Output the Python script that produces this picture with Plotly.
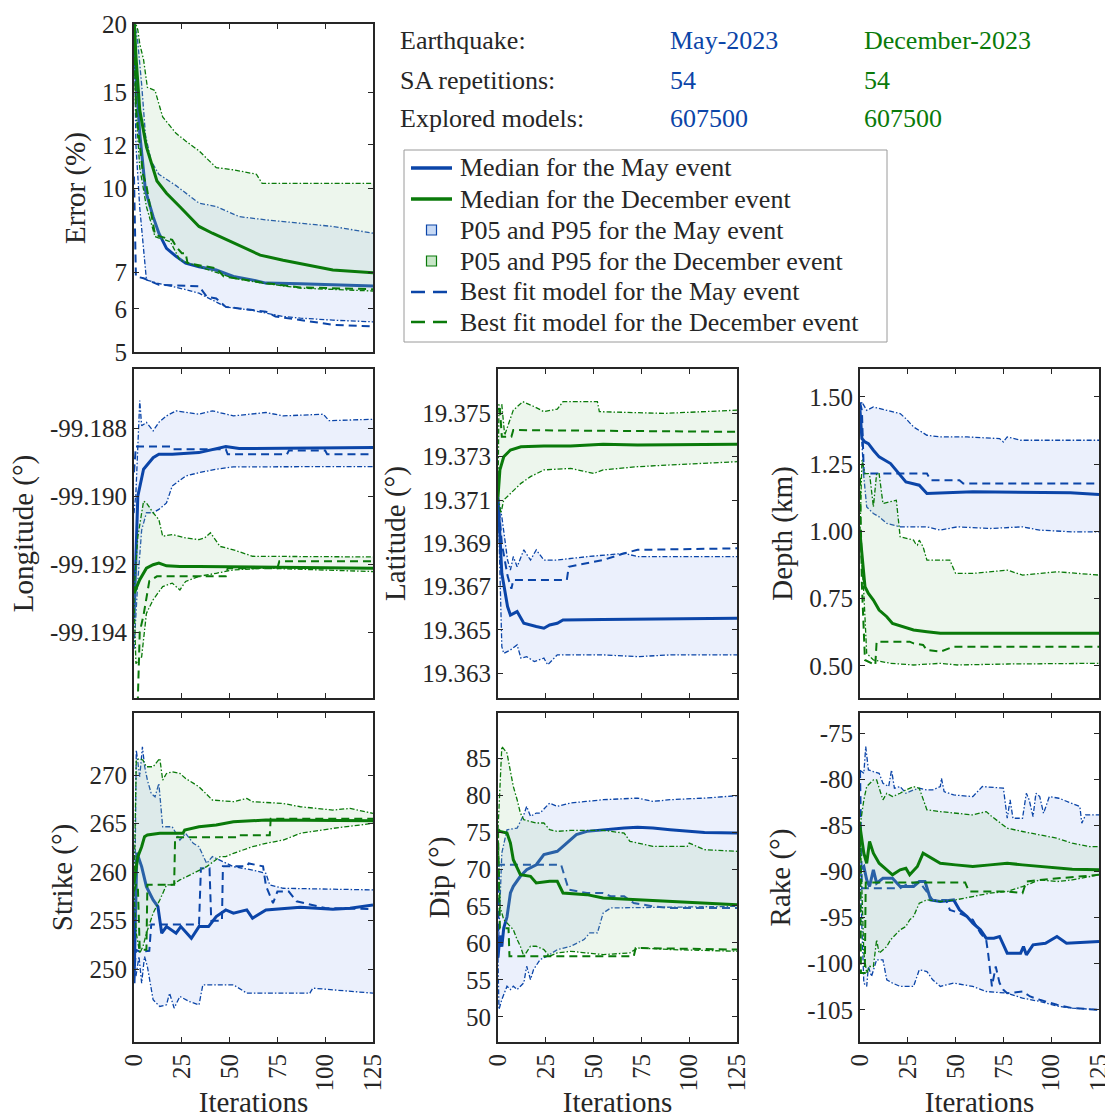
import math
import plotly.graph_objects as go

# ---------------------------------------------------------------- colours
MAY = '#0b45a8'
DEC = '#0a7a0a'
MAY_FILL = 'rgb(235,240,252)'
DEC_FILL = 'rgba(165,210,165,0.2)'
INK = '#262626'
FONT = 'Liberation Serif'

# ---------------------------------------------------------------- header table
header_rows = ['Earthquake:', 'SA repetitions:', 'Explored models:']
may_column = ['May-2023', '54', '607500']
dec_column = ['December-2023', '54', '607500']

# ---------------------------------------------------------------- legend labels
legend_labels = ['Median for the May event', 'Median for the December event',
                 'P05 and P95 for the May event', 'P05 and P95 for the December event',
                 'Best fit model for the May event', 'Best fit model for the December event']

# ---------------------------------------------------------------- ticks
iter_ticks = [0, 25, 50, 75, 100, 125]
iter_labels = ['0', '25', '50', '75', '100', '125']
err_ticks = [5, 6, 7, 10, 12, 15, 20]
err_labels = ['5', '6', '7', '10', '12', '15', '20']
lon_ticks = [-99.194, -99.192, -99.190, -99.188]
lon_labels = ['-99.194', '-99.192', '-99.190', '-99.188']
lat_ticks = [19.363, 19.365, 19.367, 19.369, 19.371, 19.373, 19.375]
lat_labels = ['19.363', '19.365', '19.367', '19.369', '19.371', '19.373', '19.375']
dep_ticks = [0.50, 0.75, 1.00, 1.25, 1.50]
dep_labels = ['0.50', '0.75', '1.00', '1.25', '1.50']
str_ticks = [250, 255, 260, 265, 270]
str_labels = ['250', '255', '260', '265', '270']
dip_ticks = [50, 55, 60, 65, 70, 75, 80, 85]
dip_labels = ['50', '55', '60', '65', '70', '75', '80', '85']
rake_ticks = [-105, -100, -95, -90, -85, -80, -75]
rake_labels = ['-105', '-100', '-95', '-90', '-85', '-80', '-75']

# ---------------------------------------------------------------- Error (%)
err_may_p95_x = [0, 2, 4, 6, 9, 13, 22, 34, 43, 55, 69, 87, 104, 125]
err_may_p95_y = [20.5, 18.5, 15.5, 12.5, 11.2, 10.6, 10.1, 9.38, 9.25, 8.86, 8.74, 8.62, 8.50, 8.26]
err_may_med_x = [0, 1, 3, 6, 10, 13, 17, 22, 27, 34, 43, 52, 61, 69, 87, 104, 125]
err_may_med_y = [20.5, 16.0, 12.6, 9.9, 8.86, 8.26, 7.75, 7.49, 7.28, 7.17, 7.07, 6.88, 6.79, 6.69, 6.67, 6.64, 6.61]
err_may_p05_x = [0, 1, 3, 5, 6.5, 12, 20, 27, 34, 41, 48, 61, 69, 78, 87, 104, 125]
err_may_p05_y = [20.5, 12.0, 9.2, 7.6, 6.78, 6.69, 6.60, 6.51, 6.41, 6.23, 6.05, 5.97, 5.89, 5.81, 5.77, 5.72, 5.68]
err_may_best_x = [0, 1, 5, 13, 34, 38, 43, 48, 55, 69, 74, 87, 96, 104, 125]
err_may_best_y = [10.5, 6.88, 6.83, 6.64, 6.60, 6.32, 6.27, 6.05, 6.01, 5.93, 5.81, 5.72, 5.65, 5.61, 5.57]
err_dec_p95_x = [0, 2, 3, 5, 7, 11, 15, 22, 27, 34, 43, 52, 64, 67, 125]
err_dec_p95_y = [20.5, 19.5, 18.4, 17.2, 15.3, 15.1, 13.5, 12.6, 12.2, 11.7, 10.9, 10.8, 10.6, 10.2, 10.2]
err_dec_med_x = [0, 1, 3, 6.5, 12, 17, 24, 34, 41, 52, 66, 78, 95, 104, 125]
err_dec_med_y = [20.5, 17.5, 13.9, 11.9, 10.3, 9.78, 9.24, 8.50, 8.26, 7.92, 7.53, 7.37, 7.17, 7.07, 6.99]
err_dec_p05_x = [0, 1, 3, 6.5, 11, 19, 24, 34, 52, 67, 87, 125]
err_dec_p05_y = [20.5, 14.0, 10.9, 9.24, 8.14, 7.97, 7.37, 7.17, 6.83, 6.69, 6.55, 6.47]
err_dec_best_x = [0, 1, 4.7, 6.5, 11, 20, 22, 25, 27, 28, 43, 47, 69, 78, 87, 125]
err_dec_best_y = [20.5, 14.0, 10.6, 10.1, 8.20, 8.03, 7.81, 7.59, 7.59, 7.28, 7.12, 6.88, 6.69, 6.64, 6.57, 6.52]

# ---------------------------------------------------------------- Longitude
lon_may_p95_x = [0, 1, 3, 4, 6.5, 10, 13, 17, 22, 34, 41, 52, 69, 78, 99, 102, 125]
lon_may_p95_y = [-99.1905, -99.1899, -99.18719, -99.18793, -99.18783, -99.18808, -99.18783, -99.18764,
                 -99.18749, -99.18759, -99.18749, -99.18764, -99.18754, -99.18764, -99.18759, -99.18778, -99.18774]
lon_may_med_x = [0, 1, 2, 5, 10, 13, 20, 34, 41, 48, 55, 125]
lon_may_med_y = [-99.1936, -99.1915, -99.1900, -99.18921, -99.18887, -99.18877, -99.18877, -99.18872,
                 -99.18862, -99.18854, -99.18860, -99.18857]
lon_may_p05_x = [0, 2, 4, 6.5, 10, 13, 17, 20, 27, 34, 43, 52, 125]
lon_may_p05_y = [-99.1945, -99.1925, -99.1910, -99.19049, -99.19049, -99.19039, -99.19020, -99.18970,
                 -99.18941, -99.18931, -99.18921, -99.18914, -99.18913]
lon_may_best_x = [0, 1, 19, 20, 48, 49, 80, 81, 100, 101, 125]
lon_may_best_y = [-99.1893, -99.18854, -99.18854, -99.18862, -99.18862, -99.18877, -99.18877, -99.18866,
                  -99.18866, -99.18877, -99.18877]
lon_dec_p95_x = [0, 2, 5, 6.5, 10, 13, 15, 20, 27, 34, 37, 40, 45, 52, 62, 125]
lon_dec_p95_y = [-99.1928, -99.1912, -99.19015, -99.19020, -99.19049, -99.19069, -99.19118, -99.19113,
                 -99.19123, -99.19128, -99.19123, -99.19108, -99.19148, -99.19158, -99.19177, -99.19179]
lon_dec_med_x = [0, 3, 6.5, 10, 13, 17, 24, 34, 125]
lon_dec_med_y = [-99.19286, -99.19246, -99.19212, -99.19202, -99.19197, -99.19205, -99.19207, -99.19207, -99.19212]
lon_dec_p05_x = [0, 1, 4, 6.5, 10, 15, 20, 24, 27, 34, 43, 52, 69, 104, 125]
lon_dec_p05_y = [-99.1930, -99.19493, -99.19473, -99.19345, -99.19305, -99.19266, -99.19256, -99.19276,
                 -99.19251, -99.19236, -99.19227, -99.19217, -99.19212, -99.19217, -99.19222]
lon_dec_best_x = [0, 2, 3, 5, 8, 12, 48, 49, 75, 76, 125]
lon_dec_best_y = [-99.1965, -99.1960, -99.1940, -99.1935, -99.1925, -99.19236, -99.19236, -99.19212,
                  -99.19212, -99.19192, -99.19192]

# ---------------------------------------------------------------- Latitude
lat_may_p95_x = [0, 2, 5, 6.5, 8, 10, 13.5, 17, 20, 24, 31, 47, 66, 73, 125]
lat_may_p95_y = [19.37115, 19.37023, 19.36823, 19.36777, 19.36839, 19.36792, 19.36870, 19.36823,
                 19.36870, 19.36823, 19.36823, 19.36839, 19.36854, 19.36839, 19.36839]
lat_may_med_x = [0, 2, 5, 6.5, 10, 13.5, 20, 24, 27, 31, 34, 55, 125]
lat_may_med_y = [19.37115, 19.36762, 19.36608, 19.36569, 19.36585, 19.36531, 19.36516, 19.36508,
                 19.36523, 19.36531, 19.36546, 19.36549, 19.36554]
lat_may_p05_x = [0, 2, 3, 6.5, 10, 12, 15, 19, 24, 26, 31, 55, 73, 90, 125]
lat_may_p05_y = [19.37115, 19.36423, 19.36392, 19.36408, 19.36431, 19.36370, 19.36377, 19.36354,
                 19.36370, 19.36339, 19.36385, 19.36385, 19.36377, 19.36385, 19.36385]
lat_may_best_x = [0, 2, 5, 7, 8, 36, 37, 55, 66, 73, 125]
lat_may_best_y = [19.37115, 19.3690, 19.3675, 19.3669, 19.36731, 19.36731, 19.36792, 19.36823,
                  19.36854, 19.36870, 19.36877]
lat_dec_p95_x = [0, 0.5, 2, 3.5, 8, 13, 19, 24, 31, 34, 52, 53, 87, 125]
lat_dec_p95_y = [19.37115, 19.37540, 19.37540, 19.37400, 19.37515, 19.37554, 19.37531, 19.37508,
                 19.37520, 19.37554, 19.37554, 19.37508, 19.37500, 19.37515]
lat_dec_med_x = [0, 1, 3, 6.5, 12, 24, 38, 55, 73, 125]
lat_dec_med_y = [19.37115, 19.37239, 19.37300, 19.37331, 19.37346, 19.37349, 19.37349, 19.37358,
                 19.37354, 19.37357]
lat_dec_p05_x = [0, 1.5, 3, 6.5, 12, 17, 24, 38, 50, 55, 73, 90, 125]
lat_dec_p05_y = [19.37115, 19.37039, 19.37100, 19.37131, 19.37177, 19.37208, 19.37239, 19.37246,
                 19.37223, 19.37239, 19.37254, 19.37262, 19.37277]
lat_dec_best_x = [0, 1, 2, 4.5, 7, 8, 125]
lat_dec_best_y = [19.37520, 19.37520, 19.37392, 19.37392, 19.37392, 19.37423, 19.37415]

# ---------------------------------------------------------------- Depth (km)
dep_may_p95_x = [0, 1, 3.5, 7, 14, 21, 24, 28, 35, 42, 56, 73, 75, 77, 84, 125]
dep_may_p95_y = [1.45, 1.4814, 1.4505, 1.4629, 1.4505, 1.4381, 1.4196, 1.3886, 1.3577, 1.3515,
                 1.3515, 1.3453, 1.3329, 1.3515, 1.3391, 1.3391]
dep_may_med_x = [0, 1, 2.6, 4.4, 7, 10, 16, 19, 24, 31, 35, 59, 110, 125]
dep_may_med_y = [1.4505, 1.3453, 1.3329, 1.3267, 1.3020, 1.2772, 1.2525, 1.2277, 1.1844, 1.1720,
                 1.1411, 1.1473, 1.1436, 1.1374]
dep_may_p05_x = [0, 2, 3.5, 7, 10, 14, 21, 35, 42, 51, 68, 85, 94, 111, 125]
dep_may_p05_y = [1.4505, 1.2030, 1.0916, 1.0668, 1.0545, 1.0297, 1.0173, 1.0173, 1.0050, 1.0173,
                 1.0111, 1.0173, 1.0050, 0.9988, 0.9988]
dep_may_best_x = [0, 1, 2, 35, 37, 52, 54, 125]
dep_may_best_y = [1.48, 1.45, 1.2153, 1.2153, 1.1906, 1.1906, 1.1782, 1.1782]
dep_dec_p95_x = [0, 1, 2.6, 4.4, 5.2, 7, 8.7, 10, 12, 19, 21, 28, 29, 30, 31, 33, 35, 47, 50, 59,
                 77, 85, 103, 125]
dep_dec_p95_y = [1.0, 1.2649, 1.2153, 1.2153, 1.2030, 1.0916, 1.2153, 1.2153, 1.1040, 1.1163,
                 0.9802, 0.9678, 0.9555, 0.9493, 0.9678, 0.9430, 0.8936, 0.8936, 0.8441, 0.8441,
                 0.8564, 0.8379, 0.8503, 0.8379]
dep_dec_med_x = [0, 1.4, 2.6, 4.4, 7, 10, 14, 17, 23, 28, 35, 42, 125]
dep_dec_med_y = [0.9926, 0.8936, 0.7946, 0.7698, 0.7450, 0.7079, 0.6832, 0.6584, 0.6460, 0.6337,
                 0.6275, 0.6213, 0.6213]
dep_dec_p05_x = [0, 2, 3.5, 5, 7, 16, 28, 42, 51, 77, 125]
dep_dec_p05_y = [0.9926, 0.7698, 0.5470, 0.5347, 0.5223, 0.5099, 0.5037, 0.5099, 0.5037, 0.5074, 0.5099]
dep_dec_best_x = [0, 1, 2.6, 8, 8.7, 26, 28, 33, 35, 42, 49, 125]
dep_dec_best_y = [1.2, 0.8, 0.5223, 0.5037, 0.5904, 0.5904, 0.5842, 0.5780, 0.5594, 0.5532, 0.5718, 0.5718]

# ---------------------------------------------------------------- Strike (deg)
str_may_p95_x = [0, 1.2, 3, 4.4, 5.6, 7, 9, 11, 13, 15, 20, 24, 27, 31, 34, 38, 41, 45, 52, 62, 69,
                 71, 78, 125]
str_may_p95_y = [250, 272.57, 269.83, 272.92, 270.86, 269.49, 268.11, 267.77, 269.14, 264.68, 264.68,
                 263.31, 264.0, 262.97, 262.62, 260.91, 261.6, 261.25, 260.57, 260.22, 259.88, 258.68,
                 258.34, 258.17]
str_may_med_x = [0, 1.5, 4, 6.5, 10, 12.5, 14.5, 17, 22, 24.5, 30, 34, 39, 43, 48, 52, 59, 62, 69,
                 87, 104, 113, 125]
str_may_med_y = [248.56, 262.0, 260.57, 258.51, 257.14, 256.45, 253.71, 254.39, 253.71, 254.39,
                 253.19, 254.39, 254.39, 255.42, 256.11, 255.77, 256.11, 255.25, 256.11, 256.38,
                 256.17, 256.28, 256.62]
str_may_p05_x = [0, 1, 2.6, 4, 5.5, 7, 10, 13.5, 17, 18.6, 21, 24, 29, 34, 36, 43, 52, 59, 69, 92,
                 93.5, 104, 125]
str_may_p05_y = [250.28, 249.25, 251.31, 248.56, 251.31, 250.28, 246.85, 246.16, 246.33, 247.53,
                 245.99, 247.19, 246.67, 246.33, 248.39, 248.39, 248.39, 247.53, 247.53, 247.53,
                 248.05, 247.88, 247.53]
str_may_best_x = [0, 1, 3, 8, 9, 34, 35, 39.5, 40.4, 46, 46.5, 59, 60, 67.5, 69, 72.7, 75, 81, 85,
                  100, 125]
str_may_best_y = [249, 252, 251.8, 251.9, 254.6, 254.6, 260.4, 260.4, 255.0, 255.0, 260.6, 260.6,
                  260.9, 260.6, 258.6, 256.8, 258.0, 258.0, 257.0, 256.3, 256.2]
str_dec_p95_x = [0, 1.2, 3, 4.7, 6.5, 10, 13.5, 15, 17, 20, 24, 27, 34, 41, 52, 59, 62, 78, 87, 104,
                 113, 125]
str_dec_p95_y = [258, 271.54, 271.72, 271.54, 270.86, 270.86, 271.72, 269.49, 270.17, 270.34, 270.17,
                 269.66, 268.8, 267.43, 267.26, 267.6, 267.26, 267.08, 266.74, 266.4, 266.57, 266.06]
str_dec_med_x = [0, 2, 4, 5.5, 7, 13.5, 20, 25.6, 26.5, 34, 43, 52, 69, 125]
str_dec_med_y = [258.85, 261.6, 262.62, 263.66, 263.83, 264.0, 264.0, 264.0, 264.34, 264.68, 264.86,
                 265.2, 265.37, 265.3]
str_dec_p05_x = [0, 1.2, 3, 4.7, 6.5, 10, 13.5, 17, 20, 24, 31, 38, 45, 48, 52, 62, 69, 78, 87, 104, 125]
str_dec_p05_y = [258, 253.71, 251.65, 252.34, 253.71, 255.77, 257.14, 258.68, 258.68, 259.2, 259.88,
                 260.57, 261.6, 261.6, 261.94, 262.62, 262.97, 263.31, 264.0, 264.51, 265.03]
str_dec_best_x = [0, 1, 2, 3, 6.5, 7, 21, 21.5, 54, 54.5, 71, 71.5, 125]
str_dec_best_y = [258.0, 258.7, 258.7, 252.0, 252.0, 258.7, 258.7, 263.6, 263.6, 263.8, 263.8, 265.5, 265.5]

# ---------------------------------------------------------------- Dip (deg)
dip_may_p95_x = [0, 2, 4.7, 10, 13.5, 15, 17, 18.6, 20, 22, 25.6, 27, 31, 38, 46, 55, 73, 81, 90, 108, 125]
dip_may_p95_y = [58, 72.16, 75.31, 75.54, 77.34, 78.47, 77.12, 77.34, 77.57, 77.57, 78.47, 78.92,
                 78.47, 78.92, 79.14, 79.37, 79.59, 79.14, 79.37, 79.59, 79.91]
dip_may_med_x = [0, 1, 2, 3, 4.7, 6.5, 8, 11.7, 15, 20, 24, 27, 31, 34, 38, 41, 46.5, 55, 59, 66, 73,
                 81, 90, 108, 125]
dip_may_med_y = [58.0, 61.0, 59.5, 62.0, 63.5, 66.76, 67.66, 69.01, 69.91, 70.58, 71.94, 72.16, 72.39,
                 73.06, 73.96, 74.64, 75.09, 75.31, 75.40, 75.54, 75.63, 75.54, 75.31, 74.95, 74.86]
dip_may_p05_x = [0, 0.5, 2, 4.7, 6.5, 8, 10, 13.5, 15, 17, 18.6, 22, 25.6, 31, 38, 45, 48, 52, 55, 59, 125]
dip_may_p05_y = [58, 51.0, 52.34, 54.14, 53.69, 54.14, 53.69, 54.59, 56.84, 55.04, 56.39, 57.74, 58.19,
                 59.09, 59.55, 60.45, 61.35, 61.35, 64.05, 64.73, 64.95]
dip_may_best_x = [0, 0.5, 33, 35, 37, 46.5, 55, 59, 66, 71, 81, 90, 125]
dip_may_best_y = [58, 70.58, 70.58, 69.0, 67.2, 66.76, 66.76, 66.3, 66.3, 65.4, 64.95, 64.73, 64.73]
dip_dec_p95_x = [0, 2, 4.7, 6.5, 8, 10, 11.7, 13.5, 20, 24, 27, 31, 38, 55, 66, 69, 81, 99, 100, 108, 125]
dip_dec_p95_y = [75.31, 86.58, 85.68, 82.97, 81.17, 79.37, 77.57, 76.67, 76.22, 76.22, 75.31, 75.09,
                 75.22, 75.22, 74.86, 73.74, 73.06, 73.06, 73.51, 72.61, 72.39]
dip_dec_med_x = [0, 1, 4.7, 6.5, 8, 11.7, 17, 20, 27, 31, 34, 46.5, 55, 73, 90, 108, 125]
dip_dec_med_y = [75.31, 75.09, 74.86, 73.51, 71.26, 69.23, 69.01, 68.11, 68.33, 68.33, 66.76, 66.53,
                 66.08, 65.85, 65.63, 65.40, 65.18]
dip_dec_p05_x = [0, 1, 3, 4.7, 8, 10, 11.7, 13.5, 17, 20, 24, 27, 31, 38, 46, 55, 69, 73, 90, 125]
dip_dec_p05_y = [75.31, 64.95, 63.15, 62.70, 61.80, 60.45, 59.55, 58.20, 59.55, 59.55, 59.10, 58.20,
                 58.65, 58.87, 58.65, 58.42, 58.65, 59.32, 59.10, 58.87]
dip_dec_best_x = [0, 1, 5.5, 6, 71, 72, 125]
dip_dec_best_y = [75.31, 62.0, 62.0, 58.2, 58.2, 59.32, 59.1]

# ---------------------------------------------------------------- Rake (deg)
rake_may_p95_x = [0, 2, 3, 4.4, 7, 10, 12, 15, 16.5, 18, 21, 24, 28, 31, 35, 38, 42, 42.6, 44, 49, 59,
                  64, 75, 77, 78.5, 80, 85, 87, 88.5, 90.5, 92, 94, 96, 99, 104, 111, 115, 116, 118, 125]
rake_may_p95_y = [-79.0, -79.34, -76.45, -78.98, -79.16, -79.34, -80.42, -80.78, -78.98, -80.96,
                  -80.78, -81.51, -81.15, -80.96, -81.15, -81.15, -80.78, -79.88, -81.33, -81.69,
                  -81.87, -80.78, -80.96, -84.22, -82.23, -84.22, -84.22, -81.51, -82.23, -84.04,
                  -81.51, -81.87, -83.68, -81.87, -82.05, -82.59, -82.95, -84.76, -83.86, -83.86]
rake_may_med_x = [0, 2, 3.5, 5, 7, 8.7, 12, 17, 21, 28, 31, 34, 37, 42, 49, 52, 56, 59, 63, 66, 70,
                  73, 77, 84, 85.5, 87, 90.5, 97, 103, 108, 125]
rake_may_med_y = [-89.82, -89.46, -90.91, -91.63, -89.82, -91.27, -90.73, -90.73, -91.63, -91.63,
                  -91.09, -91.09, -93.08, -93.26, -93.08, -94.16, -94.88, -95.61, -96.33, -97.23,
                  -97.23, -97.05, -98.86, -98.86, -98.14, -99.04, -97.96, -97.78, -97.05, -97.78, -97.59]
rake_may_p05_x = [0, 2, 3.5, 4.4, 6, 8.7, 12, 14, 17, 21, 28, 31, 35, 38, 42, 49, 59, 66, 77, 85, 94,
                  104, 111, 125]
rake_may_p05_y = [-90.0, -102.11, -102.47, -100.31, -101.39, -99.58, -99.58, -101.75, -102.11, -102.47,
                  -102.47, -100.67, -100.85, -101.75, -102.47, -102.11, -102.47, -103.02, -103.2,
                  -103.74, -104.1, -104.64, -104.82, -105.0]
rake_may_best_x = [0, 1, 21, 24, 31, 38, 45, 47, 52, 59, 63, 66, 67, 69, 71, 73, 75, 77, 85, 89, 94,
                   103, 111, 125]
rake_may_best_y = [-79.0, -91.81, -91.81, -91.45, -91.09, -93.08, -93.08, -94.16, -94.52, -95.24,
                   -96.69, -97.41, -98.86, -102.47, -100.31, -102.11, -102.84, -103.2, -103.02,
                   -103.56, -103.92, -104.46, -104.82, -105.0]
rake_dec_p95_x = [0, 2, 3.5, 7, 8.7, 10, 12, 14, 17, 21, 24, 28, 31, 35, 42, 59, 66, 69, 77, 85, 94,
                  103, 111, 120, 125]
rake_dec_p95_y = [-85.12, -82.23, -80.78, -80.06, -80.06, -80.96, -82.23, -81.51, -81.87, -81.51,
                  -81.15, -80.78, -80.96, -83.31, -83.5, -83.86, -83.5, -84.04, -85.3, -85.66,
                  -86.03, -86.39, -86.93, -87.29, -87.29]
rake_dec_med_x = [0, 2, 3.5, 5, 7, 10, 14, 17, 21, 24, 26, 30, 33, 36, 42, 50, 59, 68, 77, 85, 94,
                  103, 111, 125]
rake_dec_med_y = [-85.12, -88.01, -89.1, -86.75, -88.01, -89.1, -89.82, -90.36, -89.82, -89.64, -90.36,
                  -89.46, -88.01, -88.38, -89.1, -89.28, -89.46, -89.28, -89.1, -89.28, -89.46,
                  -89.64, -89.75, -89.82]
rake_dec_p05_x = [0, 2, 3.5, 5, 7, 8.7, 10, 14, 16, 21, 24, 26, 28, 31, 35, 42, 50, 59, 68, 77, 85,
                  94, 103, 111, 125]
rake_dec_p05_y = [-85.12, -98.86, -101.03, -100.31, -100.31, -97.41, -98.86, -98.14, -97.41, -96.33,
                  -95.97, -95.24, -94.88, -93.44, -93.08, -93.26, -93.08, -92.71, -92.35, -92.17,
                  -91.63, -90.91, -91.09, -90.91, -90.36]
rake_dec_best_x = [0, 0.5, 2.5, 3, 55, 57, 77, 85, 87, 94, 125]
rake_dec_best_y = [-85.12, -101.0, -101.0, -91.2, -91.2, -92.17, -92.17, -92.35, -91.09, -90.91, -90.36]

# ---------------------------------------------------------------- layout geometry (pixels)
W, H = 1105, 1118
COLS = [(134, 373), (498, 737), (860, 1099)]
ROWS = [(24, 352), (369, 698), (713, 1042)]


def px_x(v):
    return v / W


def px_y(v):
    return 1 - v / H


def xdom(c):
    return [px_x(COLS[c][0]), px_x(COLS[c][1])]


def ydom(r):
    return [px_y(ROWS[r][1]), px_y(ROWS[r][0])]


panels = [
    dict(col=0, row=0, title='Error (%)', rng=[math.log10(5), math.log10(20)], tv=err_ticks, tt=err_labels, log=True,
         may=(err_may_p95_x, err_may_p95_y, err_may_p05_x, err_may_p05_y, err_may_med_x, err_may_med_y, err_may_best_x, err_may_best_y),
         dec=(err_dec_p95_x, err_dec_p95_y, err_dec_p05_x, err_dec_p05_y, err_dec_med_x, err_dec_med_y, err_dec_best_x, err_dec_best_y)),
    dict(col=0, row=1, title='Longitude (°)', rng=[-99.19594, -99.18626], tv=lon_ticks, tt=lon_labels, log=False,
         may=(lon_may_p95_x, lon_may_p95_y, lon_may_p05_x, lon_may_p05_y, lon_may_med_x, lon_may_med_y, lon_may_best_x, lon_may_best_y),
         dec=(lon_dec_p95_x, lon_dec_p95_y, lon_dec_p05_x, lon_dec_p05_y, lon_dec_med_x, lon_dec_med_y, lon_dec_best_x, lon_dec_best_y)),
    dict(col=1, row=1, title='Latitude (°)', rng=[19.36186, 19.37705], tv=lat_ticks, tt=lat_labels, log=False,
         may=(lat_may_p95_x, lat_may_p95_y, lat_may_p05_x, lat_may_p05_y, lat_may_med_x, lat_may_med_y, lat_may_best_x, lat_may_best_y),
         dec=(lat_dec_p95_x, lat_dec_p95_y, lat_dec_p05_x, lat_dec_p05_y, lat_dec_med_x, lat_dec_med_y, lat_dec_best_x, lat_dec_best_y)),
    dict(col=2, row=1, title='Depth (km)', rng=[0.381, 1.604], tv=dep_ticks, tt=dep_labels, log=False,
         may=(dep_may_p95_x, dep_may_p95_y, dep_may_p05_x, dep_may_p05_y, dep_may_med_x, dep_may_med_y, dep_may_best_x, dep_may_best_y),
         dec=(dep_dec_p95_x, dep_dec_p95_y, dep_dec_p05_x, dep_dec_p05_y, dep_dec_med_x, dep_dec_med_y, dep_dec_best_x, dep_dec_best_y)),
    dict(col=0, row=2, title='Strike (°)', rng=[242.5, 276.4], tv=str_ticks, tt=str_labels, log=False,
         may=(str_may_p95_x, str_may_p95_y, str_may_p05_x, str_may_p05_y, str_may_med_x, str_may_med_y, str_may_best_x, str_may_best_y),
         dec=(str_dec_p95_x, str_dec_p95_y, str_dec_p05_x, str_dec_p05_y, str_dec_med_x, str_dec_med_y, str_dec_best_x, str_dec_best_y)),
    dict(col=1, row=2, title='Dip (°)', rng=[46.6, 91.1], tv=dip_ticks, tt=dip_labels, log=False,
         may=(dip_may_p95_x, dip_may_p95_y, dip_may_p05_x, dip_may_p05_y, dip_may_med_x, dip_may_med_y, dip_may_best_x, dip_may_best_y),
         dec=(dip_dec_p95_x, dip_dec_p95_y, dip_dec_p05_x, dip_dec_p05_y, dip_dec_med_x, dip_dec_med_y, dip_dec_best_x, dip_dec_best_y)),
    dict(col=2, row=2, title='Rake (°)', rng=[-108.5, -72.8], tv=rake_ticks, tt=rake_labels, log=False,
         may=(rake_may_p95_x, rake_may_p95_y, rake_may_p05_x, rake_may_p05_y, rake_may_med_x, rake_may_med_y, rake_may_best_x, rake_may_best_y),
         dec=(rake_dec_p95_x, rake_dec_p95_y, rake_dec_p05_x, rake_dec_p05_y, rake_dec_med_x, rake_dec_med_y, rake_dec_best_x, rake_dec_best_y)),
]

BOUND_DASH = '5px,2px,1.5px,2px'
BEST_DASH = '8px,5px'

fig = go.Figure()


def add_event(ax, data, color, fill):
    p95x, p95y, p05x, p05y, medx, medy, bestx, besty = data
    xa, ya = ('x' if ax == 1 else f'x{ax}'), ('y' if ax == 1 else f'y{ax}')
    common = dict(xaxis=xa, yaxis=ya, showlegend=False, hoverinfo='skip', mode='lines')
    # percentile band between P05 and P95
    fig.add_trace(go.Scatter(x=list(p95x) + list(p05x)[::-1], y=list(p95y) + list(p05y)[::-1],
                             fill='toself', fillcolor=fill, line=dict(width=0), **common))
    fig.add_trace(go.Scatter(x=p95x, y=p95y, line=dict(color=color, width=1.3, dash=BOUND_DASH), **common))
    fig.add_trace(go.Scatter(x=p05x, y=p05y, line=dict(color=color, width=1.3, dash=BOUND_DASH), **common))
    fig.add_trace(go.Scatter(x=bestx, y=besty, line=dict(color=color, width=2, dash=BEST_DASH), **common))
    fig.add_trace(go.Scatter(x=medx, y=medy, line=dict(color=color, width=3), **common))


axis_common = dict(showline=True, linecolor=INK, linewidth=2, mirror='allticks', ticks='inside',
                   ticklen=5, tickwidth=1.2, tickcolor=INK, showgrid=False, zeroline=False,
                   automargin=False, tickfont=dict(family=FONT, size=25, color=INK))
TITLE_FONT = dict(family=FONT, size=29, color=INK)

layout_axes = {}
for k, p in enumerate(panels, start=1):
    add_event(k, p['may'], MAY, MAY_FILL)
    add_event(k, p['dec'], DEC, DEC_FILL)
    xname = 'xaxis' if k == 1 else f'xaxis{k}'
    yname = 'yaxis' if k == 1 else f'yaxis{k}'
    bottom = p['row'] == 2
    xa = dict(axis_common, domain=xdom(p['col']), range=[0, 125], tickmode='array',
              tickvals=iter_ticks, ticktext=iter_labels, showticklabels=bottom, tickangle=-90,
              ticklabeloverflow='allow', anchor='y' if k == 1 else f'y{k}')
    if bottom:
        xa['title'] = dict(text='Iterations', font=TITLE_FONT, standoff=4)
    ya = dict(axis_common, domain=ydom(p['row']), range=p['rng'], tickmode='array',
              tickvals=p['tv'], ticktext=p['tt'], anchor='x' if k == 1 else f'x{k}',
              title=dict(text=p['title'], font=TITLE_FONT, standoff=8))
    if p['log']:
        ya['type'] = 'log'
    layout_axes[xname] = xa
    layout_axes[yname] = ya

# ---------------------------------------------------------------- header table
annotations = []
row_y = [41, 80, 119]
for label, m, d, yy in zip(header_rows, may_column, dec_column, row_y):
    for text, x0, col in ((label, 398, INK), (m, 668, MAY), (d, 862, DEC)):
        annotations.append(dict(x=px_x(x0), y=px_y(yy), xref='paper', yref='paper', text=text,
                                showarrow=False, xanchor='left', yanchor='middle',
                                font=dict(family=FONT, size=26, color=col)))

# ---------------------------------------------------------------- legend box
LEG_L, LEG_T, LEG_R, LEG_B = 404, 150, 887, 342
LEG_ROW_Y = [168, 199, 230, 261, 292, 322]
SAMPLE_X0, SAMPLE_X1, TEXT_X = 411, 452, 458
legend_styles = [
    ('line', MAY, 3.5, 'solid', None),
    ('line', DEC, 3.5, 'solid', None),
    ('box', MAY, 1.2, None, '#c8daf5'),
    ('box', DEC, 1.2, None, '#c8e6c8'),
    ('line', MAY, 2.5, '14px,8px', None),
    ('line', DEC, 2.5, '14px,8px', None),
]
shapes = [dict(type='rect', xref='paper', yref='paper', x0=px_x(LEG_L), x1=px_x(LEG_R),
               y0=px_y(LEG_B), y1=px_y(LEG_T), line=dict(color='#9a9a9a', width=1),
               fillcolor='white', layer='above')]
for label, yy, (kind, col, lw, dash, fc) in zip(legend_labels, LEG_ROW_Y, legend_styles):
    if kind == 'line':
        shapes.append(dict(type='line', xref='paper', yref='paper', x0=px_x(SAMPLE_X0), x1=px_x(SAMPLE_X1),
                           y0=px_y(yy), y1=px_y(yy), line=dict(color=col, width=lw, dash=dash)))
    else:
        cx = (SAMPLE_X0 + SAMPLE_X1) / 2
        shapes.append(dict(type='rect', xref='paper', yref='paper', x0=px_x(cx - 5), x1=px_x(cx + 5),
                           y0=px_y(yy + 5), y1=px_y(yy - 5), line=dict(color=col, width=lw), fillcolor=fc))
    annotations.append(dict(x=px_x(TEXT_X), y=px_y(yy), xref='paper', yref='paper', text=label,
                            showarrow=False, xanchor='left', yanchor='middle',
                            font=dict(family=FONT, size=26, color=INK)))

fig.update_layout(
    width=W, height=H,
    margin=dict(l=0, r=0, t=0, b=0, autoexpand=False),
    paper_bgcolor='white', plot_bgcolor='white',
    font=dict(family=FONT, size=25, color=INK),
    showlegend=False,
    annotations=annotations,
    shapes=shapes,
    **layout_axes,
)

fig.write_html('out.html')
